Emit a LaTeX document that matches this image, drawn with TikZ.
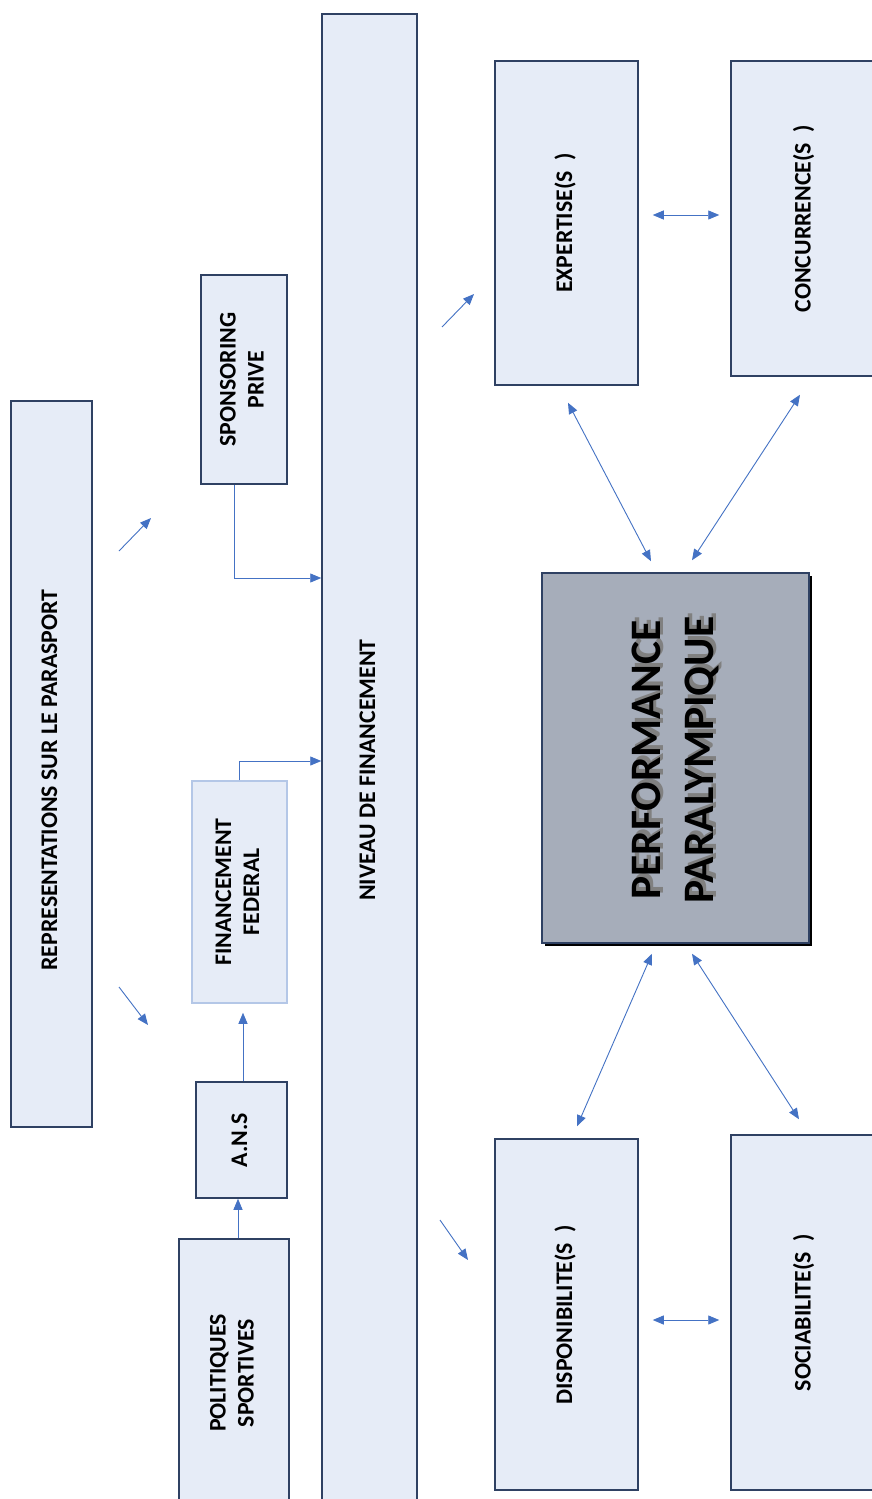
\documentclass[tikz,border=0pt]{standalone}
\usepackage{fontspec}
\setmainfont{Carlito}
\usetikzlibrary{arrows.meta,calc}
\definecolor{boxfill}{HTML}{E6ECF7}
\definecolor{boxline}{HTML}{2F4163}
\definecolor{arr}{HTML}{4472C4}
\definecolor{perffill}{HTML}{A6ADBA}
\definecolor{lightline}{HTML}{B4C7E7}
\tikzset{
 box/.style={draw=boxline, line width=1.5pt, fill=boxfill, inner sep=0pt, align=center,
   font=\bfseries\fontsize{23.8}{28}\selectfont},
 arw/.style={draw=arr, line width=0.9pt, -{Triangle[length=11pt,width=9pt]}},
 darw/.style={draw=arr, line width=0.9pt, {Triangle[length=11pt,width=9pt]}-{Triangle[length=11pt,width=9pt]}},
 perftext/.style={inner sep=0pt, font=\bfseries\fontsize{43.5}{53}\selectfont},
}
\newcommand{\vlab}[1]{\rotatebox{90}{\begin{tabular}{@{}c@{}}#1\end{tabular}}}
\begin{document}
\begin{tikzpicture}[x=1pt,y=-1pt]
\useasboundingbox (0,0) rectangle (872,1499);
\fill[white] (0,0) rectangle (872,1499);
\clip (0,0) rectangle (872,1499);
% boxes
\node[box, minimum width=81pt, minimum height=726pt] (rep) at (51.5,764) {};
\node[inner sep=0pt, font=\bfseries\fontsize{23.8}{28}\selectfont] (reptext) at (51.5,780) {\vlab{REPRESENTATIONS SUR LE PARASPORT}};
\node[box, minimum width=86pt, minimum height=209pt] (spons) at (244,379.5) {\vlab{SPONSORING\\PRIVE}};
\node[box, draw=lightline, minimum width=95pt, minimum height=222pt] (fed) at (239.5,892) {\vlab{FINANCEMENT\\FEDERAL}};
\node[box, minimum width=91pt, minimum height=116pt] (ans) at (241.5,1140) {\vlab{A.N.S}};
\node[box, minimum width=110pt, minimum height=268pt] (pol) at (234,1373) {\vlab{POLITIQUES\\SPORTIVES}};
\node[box, minimum width=95pt, minimum height=1512pt] (niv) at (369.5,770) {\vlab{NIVEAU DE FINANCEMENT}};
\node[box, minimum width=143pt, minimum height=324pt] (exp) at (566.5,223) {\vlab{EXPERTISE(S\ \ )}};
\node[box, minimum width=148pt, minimum height=315pt] (conc) at (805,218.5) {\vlab{CONCURRENCE(S\ \ )}};
\node[box, minimum width=143pt, minimum height=351pt] (dispo) at (566.5,1314.5) {\vlab{DISPONIBILITE(S\ \ )}};
\node[box, minimum width=148pt, minimum height=355pt] (socia) at (805,1312.5) {\vlab{SOCIABILITE(S\ \ )}};
% performance box with shadow
\fill[black] (544.5,575.5) rectangle (811.5,945.5);
\node[box, fill=perffill, draw=boxline, minimum width=267pt, minimum height=370pt] (perf) at (675.5,758) {};
\node[perftext, text=black!50] (perfshadow) at (679.5,756) {\vlab{PERFORMANCE\\PARALYMPIQUE}};
\node[perftext] (perftxt) at (676,760) {\vlab{PERFORMANCE\\PARALYMPIQUE}};
% connectors
\draw[arw] ([xshift=-10pt]spons.south) |- (niv.west |- 0,578);
\draw[arw] (fed.north) |- (niv.west |- 0,761);
\draw[arw, shorten >=9pt] ([xshift=1.5pt]ans.north) -- ([xshift=3.5pt]fed.south);
\draw[arw] ([xshift=4pt]pol.north) -- ([xshift=-3.5pt]ans.south);
\draw[darw, shorten <=14pt, shorten >=11pt] (exp.east |- 0,215) -- (conc.west |- 0,215);
\draw[darw, shorten <=14pt, shorten >=11pt] (dispo.east |- 0,1320) -- (socia.west |- 0,1320);
\draw[darw] ($(exp.south)+(1.5,17)$) -- ($(perf.north)+(-24.5,-11)$);
\draw[darw] ($(conc.south)+(-5,18)$) -- ($(perf.north)+(16.5,-12)$);
\draw[darw] ($(perf.south)+(-23.5,10)$) -- ($(dispo.north)+(10.5,-12)$);
\draw[darw] ($(perf.south)+(16.5,10)$) -- ($(socia.north)+(-6,-15)$);
% free arrows
\coordinate (a1s) at (119,551); \coordinate (a1e) at (151,518);
\coordinate (a2s) at (119,987); \coordinate (a2e) at (148,1025);
\coordinate (a3s) at (442,327); \coordinate (a3e) at (474,294);
\coordinate (a4s) at (440,1220); \coordinate (a4e) at (468,1260);
\draw[arw] (a1s) -- (a1e);
\draw[arw] (a2s) -- (a2e);
\draw[arw] (a3s) -- (a3e);
\draw[arw] (a4s) -- (a4e);
\end{tikzpicture}
\end{document}
